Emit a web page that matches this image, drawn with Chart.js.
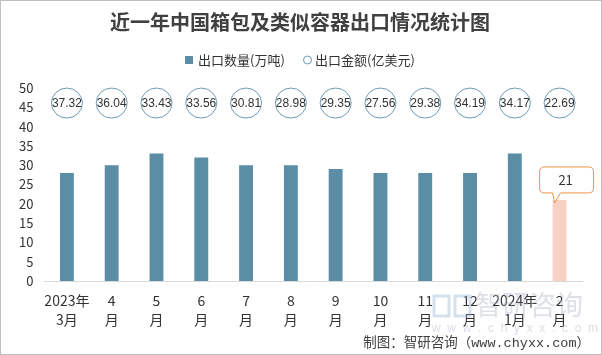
<!DOCTYPE html>
<html>
<head>
<meta charset="utf-8">
<script src="https://cdn.jsdelivr.net/npm/chart.js@4.4.1/dist/chart.umd.min.js"></script>
<style>
html,body{margin:0;padding:0;background:#fff;}
#wrap{width:602px;height:355px;position:relative;}
</style>
</head>
<body>
<div id="wrap"><canvas id="c" width="602" height="355"></canvas></div>
<script>
const categories = [['2023年','3月'],['4','月'],['5','月'],['6','月'],['7','月'],['8','月'],['9','月'],['10','月'],['11','月'],['12','月'],['2024年','1月'],['2','月']];
const exportVolume = [28, 30, 33, 32, 30, 30, 29, 28, 28, 28, 33, 21];
const exportValue = [37.32, 36.04, 33.43, 33.56, 30.81, 28.98, 29.35, 27.56, 29.38, 34.19, 34.17, 22.69];
const yTicks = [0,5,10,15,20,25,30,35,40,45,50];
const titleText = '近一年中国箱包及类似容器出口情况统计图';
const seriesNames = ['出口数量(万吨)', '出口金额(亿美元)'];
const footerText = '制图：智研咨询（www.chyxx.com）';
const calloutText = String(exportVolume[exportVolume.length-1]);

const BAR = '#5B8DA5';
const PINK = '#F7D0C6';
const CIRCLE = '#6C9BB1';
const ORANGE = '#E99443';
const TXT = '#333333';
const CJK = '"Noto Sans CJK SC", "Noto Sans", sans-serif';

const decor = {
  id: 'decor',
  afterDraw(chart) {
    const ctx = chart.ctx;
    const xs = chart.scales.x, ys = chart.scales.y;
    ctx.save();
    // outer border
    ctx.strokeStyle = '#BFBFBF';
    ctx.lineWidth = 1;
    ctx.strokeRect(0.5, 0.5, 601, 354);
    // title
    ctx.fillStyle = '#404040';
    ctx.font = 'bold 20px ' + CJK;
    ctx.textAlign = 'center';
    ctx.textBaseline = 'middle';
    ctx.fillText(titleText, 300, 22);
    // legend
    ctx.font = '13px ' + CJK;
    ctx.textAlign = 'left';
    ctx.fillStyle = BAR;
    ctx.fillRect(185, 56, 8, 8);
    ctx.fillStyle = TXT;
    ctx.fillText(seriesNames[0], 198, 60);
    ctx.beginPath();
    ctx.arc(307.5, 60, 4, 0, Math.PI*2);
    ctx.strokeStyle = CIRCLE;
    ctx.lineWidth = 1;
    ctx.stroke();
    ctx.fillText(seriesNames[1], 315, 60);
    // value circles
    const cy = ys.getPixelForValue(46.1);
    ctx.font = '12px "Liberation Sans", sans-serif';
    ctx.textAlign = 'center';
    exportValue.forEach((v, i) => {
      const cx = xs.getPixelForValue(i);
      ctx.beginPath();
      ctx.ellipse(cx, cy, 15.5, 15, 0, 0, Math.PI*2);
      ctx.fillStyle = '#fff';
      ctx.fill();
      ctx.strokeStyle = CIRCLE;
      ctx.lineWidth = 1;
      ctx.stroke();
      ctx.fillStyle = TXT;
      ctx.fillText(v.toFixed(2), cx, cy + 0.5);
    });
    // callout on last bar
    const meta = chart.getDatasetMeta(0);
    const last = meta.data[meta.data.length - 1];
    const bx = last.x, by = last.y;
    const L = bx - 20, R = bx + 34, T = by - 33, B = by - 7, r = 5;
    ctx.beginPath();
    ctx.moveTo(L + r, T);
    ctx.lineTo(R - r, T);
    ctx.quadraticCurveTo(R, T, R, T + r);
    ctx.lineTo(R, B - r);
    ctx.quadraticCurveTo(R, B, R - r, B);
    ctx.lineTo(bx + 1, B);
    ctx.lineTo(bx - 5, by + 3);
    ctx.lineTo(bx - 7, B);
    ctx.lineTo(L + r, B);
    ctx.quadraticCurveTo(L, B, L, B - r);
    ctx.lineTo(L, T + r);
    ctx.quadraticCurveTo(L, T, L + r, T);
    ctx.closePath();
    ctx.fillStyle = '#fff';
    ctx.fill();
    ctx.strokeStyle = ORANGE;
    ctx.lineWidth = 1;
    ctx.stroke();
    ctx.fillStyle = TXT;
    ctx.font = '13px ' + CJK;
    ctx.fillText(calloutText, bx + 6, (T + B) / 2);
    // watermark
    ctx.fillStyle = 'rgba(170,180,195,0.4)';
    ctx.font = '27px ' + CJK;
    ctx.textAlign = 'left';
    ctx.fillText('智研咨询', 475, 305);
    ctx.strokeStyle = 'rgba(150,180,210,0.4)';
    ctx.lineWidth = 3;
    ctx.strokeRect(434, 296, 15, 20);
    ctx.strokeRect(455, 296, 15, 20);
    ctx.font = '12px "Liberation Sans", sans-serif';
    ctx.fillStyle = 'rgba(170,180,195,0.45)';
    ctx.fillText('w  w  w  .  c  h  y  x  x  .  c  o  m', 432, 329);
    // footer
    ctx.fillStyle = '#404040';
    ctx.font = '13.5px "Liberation Mono", ' + CJK;
    ctx.textAlign = 'right';
    ctx.fillText(footerText, 590, 343);
    ctx.restore();
  }
};

new Chart(document.getElementById('c'), {
  type: 'bar',
  data: {
    labels: categories,
    datasets: [{
      label: seriesNames[0],
      data: exportVolume,
      backgroundColor: exportVolume.map((v, i) => i === exportVolume.length - 1 ? PINK : BAR),
      categoryPercentage: 1,
      barPercentage: 0.31
    }]
  },
  options: {
    responsive: false,
    animation: false,
    layout: { padding: { top: 88, right: 20, left: 0, bottom: 0 } },
    plugins: { legend: { display: false }, title: { display: false }, tooltip: { enabled: false } },
    scales: {
      x: {
        grid: { display: false, drawTicks: false },
        border: { display: true, color: '#D9D9D9', width: 1 },
        ticks: { color: TXT, font: { size: 14, family: CJK, lineHeight: 1.35 }, padding: 10, maxRotation: 0, autoSkip: false },
        afterFit(s) { s.height = 74; }
      },
      y: {
        min: 0, max: 50,
        grid: { display: false, drawTicks: false },
        border: { display: false },
        afterBuildTicks(s) { s.ticks = yTicks.map(v => ({ value: v })); },
        ticks: { color: TXT, font: { size: 13, family: CJK }, padding: 11 },
        afterFit(s) { s.width = 44.5; }
      }
    }
  },
  plugins: [decor]
});
</script>
</body>
</html>
